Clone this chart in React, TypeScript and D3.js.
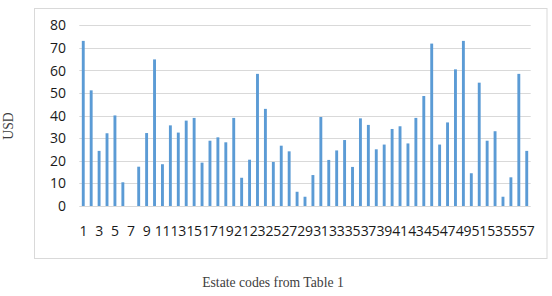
import React from "react";
import * as d3 from "d3";

const categories: number[] = Array.from({ length: 57 }, (_, i) => i + 1);
const values: number[] = [
  73.1, 51.2, 24.4, 32.2, 40.1, 10.5, 0, 17.4, 32.3, 64.9,
  18.5, 35.7, 32.5, 37.8, 39.0, 19.2, 28.9, 30.4, 28.2, 39.0,
  12.5, 20.5, 58.5, 43.0, 19.5, 26.7, 24.2, 6.3, 4.1, 13.7,
  39.4, 20.4, 24.6, 29.2, 17.3, 38.8, 35.9, 25.1, 27.2, 34.1,
  35.3, 27.7, 39.0, 48.7, 71.9, 27.2, 37.0, 60.5, 73.1, 14.5,
  54.6, 28.9, 33.1, 4.1, 12.7, 58.5, 24.4,
];
const yTicks: number[] = [0, 10, 20, 30, 40, 50, 60, 70, 80];
const xTickLabels: number[] = categories.filter((c) => c % 2 === 1);
const xTitle = "Estate codes from Table 1";
const yTitle = "USD";

export default function App() {
  const W = 552;
  const H = 296;
  const plotL = 79.3;
  const plotR = 530.7;
  const plotT = 25.3;
  const plotB = 206;

  const pi = 0.635;
  const x = d3
    .scaleBand<number>()
    .domain(categories)
    .range([plotL, plotR])
    .paddingInner(pi)
    .paddingOuter(pi / 2);
  const y = d3.scaleLinear().domain([0, 80]).range([plotB, plotT]);

  const grid = "#D9D9D9";
  const font = "'Open Sans', 'Noto Sans', sans-serif";
  const serif = "'Liberation Serif', 'Times New Roman', serif";

  return (
    <svg
      width={W}
      height={H}
      style={{ position: "absolute", left: 0, top: 0, background: "#fff" }}
    >
      <rect x={0} y={0} width={W} height={H} fill="#fff" />
      <rect
        x={34.5}
        y={8.5}
        width={512.5}
        height={250}
        fill="#fff"
        stroke={grid}
        strokeWidth={1}
      />
      {yTicks.map((t) => (
        <g key={t}>
          <line
            x1={plotL}
            x2={plotR}
            y1={Math.round(y(t)) + 0.5}
            y2={Math.round(y(t)) + 0.5}
            stroke={grid}
            strokeWidth={1}
          />
          <text
            x={66}
            y={y(t)}
            dy="0.36em"
            textAnchor="end"
            fontFamily={font}
            fontSize={14}
            fill="#1a1a1a"
          >
            {t}
          </text>
        </g>
      ))}
      {categories.map((c, i) => (
        <rect
          key={c}
          x={x(c)}
          y={y(values[i])}
          width={x.bandwidth()}
          height={y(0) - y(values[i])}
          fill="#5B9BD5"
        />
      ))}
      {xTickLabels.map((c) => (
        <text
          key={c}
          x={(x(c) as number) + x.bandwidth() / 2}
          y={236}
          textAnchor="middle"
          fontFamily={font}
          fontSize={14}
          letterSpacing={-0.3}
          fill="#1a1a1a"
        >
          {c}
        </text>
      ))}
      <text
        x={273}
        y={287}
        textAnchor="middle"
        fontFamily={serif}
        fontSize={13.7}
        fill="#404040"
      >
        {xTitle}
      </text>
      <text
        transform={`translate(13, 126) rotate(-90)`}
        textAnchor="middle"
        fontFamily={serif}
        fontSize={13.7}
        fill="#404040"
      >
        {yTitle}
      </text>
    </svg>
  );
}
